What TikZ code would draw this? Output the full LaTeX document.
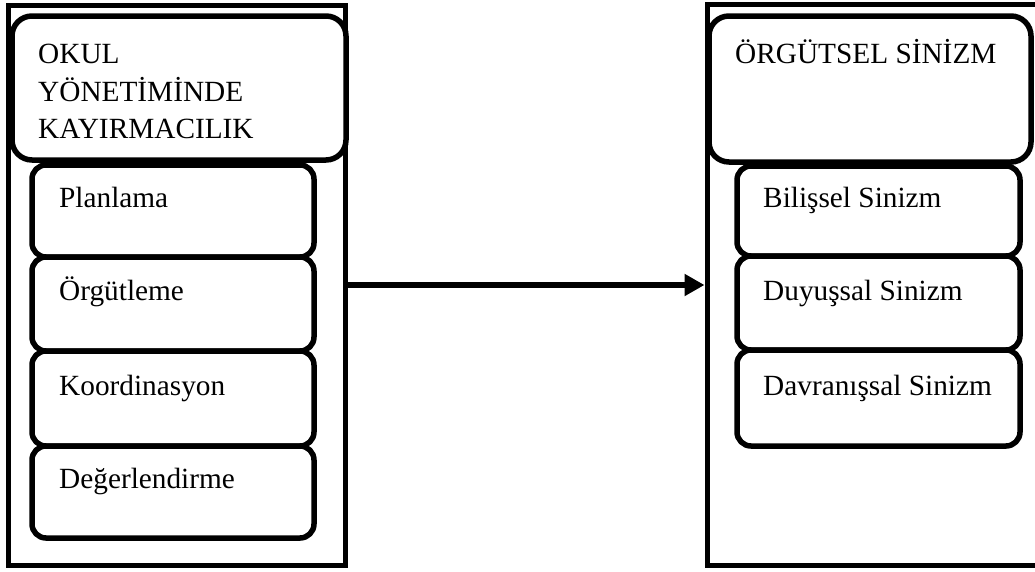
\documentclass[tikz,border=0pt]{standalone}
\usepackage{fontspec}
\setmainfont{Liberation Serif}
\usetikzlibrary{arrows.meta}
\begin{document}
\begin{tikzpicture}[x=1pt,y=-1pt,
  frame/.style={draw, line width=5pt, rectangle, inner sep=0pt},
  headbox/.style={draw, fill=white, line width=5.5pt, rectangle, rounded corners=20pt, inner sep=0pt},
  subbox/.style={draw, fill=white, line width=5.5pt, rectangle, rounded corners=14pt, inner sep=0pt, minimum width=282pt},
  lbl/.style={anchor=base west, inner sep=0pt, font=\fontsize{29.3}{37.5}\selectfont},
  conn/.style={line width=6pt, -{Triangle[length=20pt,width=21pt]}}
]
\useasboundingbox (0,0) rectangle (1035,571);
\clip (0,0) rectangle (1035,571);
% left column
\node[frame, minimum width=337pt, minimum height=560pt] (lo) at (176.5,285) {};
\node[headbox, minimum width=334pt, minimum height=144pt] (lh) at (179,88) {};
\node[subbox, minimum height=92pt] (l1) at (173,211) {};
\node[subbox, minimum height=94pt] (l2) at (173,304) {};
\node[subbox, minimum height=95pt] (l3) at (173,398.5) {};
\node[subbox, minimum height=92pt] (l4) at (173,492) {};
\node[lbl] (lt1) at (38,63) {OKUL};
\node[lbl] (lt2) at (38,101) {YÖNETİMİNDE};
\node[lbl] (lt3) at (38,138) {KAYIRMACILIK};
\node[lbl] (ls1) at (59,207) {Planlama};
\node[lbl] (ls2) at (59,300) {Örgütleme};
\node[lbl] (ls3) at (59,395) {Koordinasyon};
\node[lbl] (ls4) at (59,488) {Değerlendirme};
% right column
\node[frame, minimum width=353pt, minimum height=561pt] (ro) at (883.5,285) {};
\node[headbox, minimum width=322pt, minimum height=146pt] (rh) at (870,89) {};
\node[subbox, minimum width=283pt, minimum height=90pt] (r1) at (878.5,211) {};
\node[subbox, minimum width=283pt, minimum height=94pt] (r2) at (878.5,303) {};
\node[subbox, minimum width=283pt, minimum height=96pt] (r3) at (878.5,398) {};
\node[lbl] (rt1) at (735,63) {ÖRGÜTSEL SİNİZM};
\node[lbl] (rs1) at (763,207) {Bilişsel Sinizm};
\node[lbl] (rs2) at (763,300) {Duyuşsal Sinizm};
\node[lbl] (rs3) at (763,395) {Davranışsal Sinizm};
% connector
\draw[conn] (lo.east) -- (ro.west);
\end{tikzpicture}
\end{document}
